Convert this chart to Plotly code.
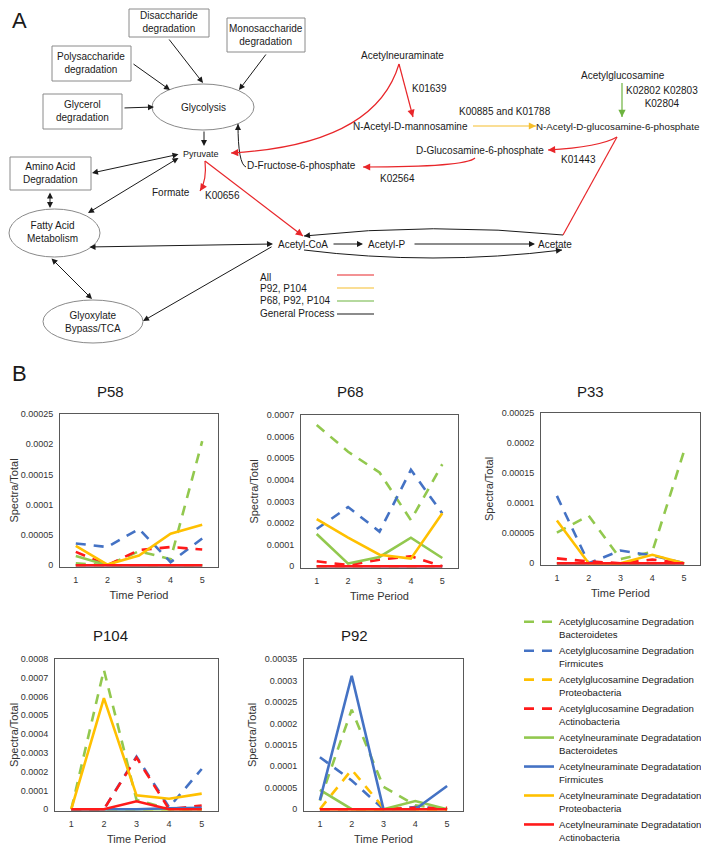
import plotly.graph_objects as go

W, H = 709, 858
OFF = 8  # default page body margin around the figure
FONT = 'Liberation Sans, Arial, sans-serif'

# ---------------- panel B data ----------------
periods = [1, 2, 3, 4, 5]

series_names = [
    'Acetylglucosamine Degradation<br>Bacteroidetes',
    'Acetylglucosamine Degradation<br>Firmicutes',
    'Acetylglucosamine Degradation<br>Proteobacteria',
    'Acetylglucosamine Degradation<br>Actinobacteria',
    'Acetylneuraminate Degradatation<br>Bacteroidetes',
    'Acetylneuraminate Degradatation<br>Firmicutes',
    'Acetylneuraminate Degradatation<br>Proteobacteria',
    'Acetylneuraminate Degradatation<br>Actinobacteria',
]
series_colors = ['#92C84E', '#4472C4', '#FFC000', '#FF1A1A'] * 2
series_dash = ['10px,8px'] * 4 + ['solid'] * 4

# one row per series, same order as series_names
p58 = [
    [0.000003, 0, 0.000023, 0.00001, 0.000205],
    [0.000036, 0.00003, 0.00006, 0.000005, 0.000044],
    [0, 0, 0, 0, 0],
    [0.000022, 0, 0.000025, 0.00003, 0.000026],
    [0.000015, 0, 0, 0, 0],
    [0, 0, 0, 0, 0],
    [0.000032, 0.000001, 0.000016, 0.000052, 0.000067],
    [0, 0, 0, 0, 0],
]
p68 = [
    [0.000654, 0.00053, 0.000434, 0.000213, 0.000472],
    [0.000172, 0.000274, 0.00016, 0.000446, 0.000244],
    [0, 0, 0, 0, 0],
    [0.000023, 0.000005, 0.00003, 0.000046, 0],
    [0.000149, 0.000012, 0.000043, 0.000132, 0.000038],
    [0, 0, 0, 0, 0],
    [0.000218, 0.000132, 0.000053, 0.000035, 0.000245],
    [0, 0, 0, 0, 0],
]
p33 = [
    [0.000051, 0.000079, 0.000007, 0.000019, 0.000187],
    [0.000112, 0, 0.000021, 0.000013, 0],
    [0, 0, 0, 0, 0],
    [0.000008, 0.000003, 0, 0.000006, 0],
    [0, 0, 0, 0, 0],
    [0, 0, 0, 0, 0],
    [0.000071, 0, 0, 0.000014, 0],
    [0, 0, 0, 0, 0],
]
p104 = [
    [0, 0.000742, 0.00005, 0, 0],
    [0, 0, 0.00028, 0.00001, 0.000214],
    [0, 0, 0, 0, 0],
    [0, 0, 0.000275, 0, 0.00002],
    [0, 0, 0, 0, 0],
    [0, 0, 0, 0.000005, 0.000008],
    [0, 0.000592, 0.000074, 0.000056, 0.000083],
    [0, 0, 0.000042, 0, 0],
]
p92 = [
    [0.00002, 0.000232, 0.000052, 0.000009, 0],
    [0.000121, 0.000067, 0, 0.000005, 0],
    [0, 0.000092, 0.000003, 0, 0],
    [0, 0, 0, 0.000003, 0.000003],
    [0.000045, 0, 0, 0.000019, 0],
    [0.000021, 0.000311, 0, 0, 0.000054],
    [0, 0, 0, 0, 0],
    [0, 0, 0, 0, 0],
]

ticks_25 = [0, 0.00005, 0.0001, 0.00015, 0.0002, 0.00025]
ticks_25_text = ['0', '0.00005', '0.0001', '0.00015', '0.0002', '0.00025']
ticks_35 = [0, 0.00005, 0.0001, 0.00015, 0.0002, 0.00025, 0.0003, 0.00035]
ticks_35_text = ['0', '0.00005', '0.0001', '0.00015', '0.0002', '0.00025', '0.0003', '0.00035']
ticks_70 = [0, 0.0001, 0.0002, 0.0003, 0.0004, 0.0005, 0.0006, 0.0007]
ticks_70_text = ['0', '0.0001', '0.0002', '0.0003', '0.0004', '0.0005', '0.0006', '0.0007']
ticks_80 = [0, 0.0001, 0.0002, 0.0003, 0.0004, 0.0005, 0.0006, 0.0007, 0.0008]
ticks_80_text = ['0', '0.0001', '0.0002', '0.0003', '0.0004', '0.0005', '0.0006', '0.0007', '0.0008']

# name, data, plot box in px (x0, x1, y0, y1), y max, ticks, title pos, y-title standoff
panels = [
    ('P58', p58, (60, 218, 414, 567), 0.00025, ticks_25, ticks_25_text, (110, 392), 3),
    ('P68', p68, (301, 458, 415, 568), 0.0007, ticks_70, ticks_70_text, (350, 392), 5),
    ('P33', p33, (541, 700, 413, 565), 0.00025, ticks_25, ticks_25_text, (590, 392), 5),
    ('P104', p104, (55, 218, 659, 811), 0.0008, ticks_80, ticks_80_text, (110, 635), 3),
    ('P92', p92, (304, 463, 659, 811), 0.00035, ticks_35, ticks_35_text, (355, 635), 5),
]

# figure fits inside the page margins, so the page never scrolls
FW, FH = W - 2 * OFF, H - 2 * OFF


def fx(x):
    return (x - OFF) / FW


def fy(y):
    return 1 - (y - OFF) / FH


fig = go.Figure()
annotations = []
shapes = []


def label(text, x, y, size=10, xanchor='center', **kw):
    annotations.append(dict(text=text, x=fx(x), y=fy(y), xref='paper', yref='paper',
                            xanchor=xanchor, yanchor='middle', showarrow=False,
                            font=dict(size=size, color='#1a1a1a', family=FONT), **kw))


def arrow(x0, y0, x1, y1, color='#1a1a1a', both=False, width=1):
    annotations.append(dict(text='', x=fx(x1), y=fy(y1), xref='paper', yref='paper',
                            ax=x0 - x1, ay=y0 - y1, axref='pixel', ayref='pixel',
                            showarrow=True, arrowhead=2, arrowsize=1.2, arrowwidth=width,
                            arrowcolor=color, arrowside='end+start' if both else 'end',
                            standoff=0, startstandoff=0))


def line(x0, y0, x1, y1, color, width=1.2):
    shapes.append(dict(type='line', xref='paper', yref='paper', x0=fx(x0), y0=fy(y0),
                       x1=fx(x1), y1=fy(y1), line=dict(color=color, width=width)))


def curve(p0, c, p1, color, width=1.2):
    path = 'M %f %f Q %f %f %f %f' % (fx(p0[0]), fy(p0[1]), fx(c[0]), fy(c[1]), fx(p1[0]), fy(p1[1]))
    shapes.append(dict(type='path', xref='paper', yref='paper', path=path,
                       line=dict(color=color, width=width)))
    # small arrowhead at the end, along the tangent
    dx, dy = p1[0] - c[0], p1[1] - c[1]
    n = (dx * dx + dy * dy) ** 0.5
    arrow(p1[0] - 5 * dx / n, p1[1] - 5 * dy / n, p1[0], p1[1], color, width=width)


def box(x0, y0, x1, y1, kind='rect'):
    shapes.append(dict(type=kind, xref='paper', yref='paper', x0=fx(x0), y0=fy(y0),
                       x1=fx(x1), y1=fy(y1), line=dict(color='#8a8a8a', width=1),
                       fillcolor='white', layer='below'))


# ---------------- panel A: pathway diagram ----------------
RED, YEL, GRN, BLK = '#E8262A', '#F5BE2C', '#6DB33F', '#1a1a1a'

label('A', 19, 20, size=22)
label('B', 19, 373, size=22)

box(129, 9, 209, 37)
label('Disaccharide<br>degradation', 169, 22)
box(227, 18, 305, 52)
label('Monosaccharide<br>degradation', 266, 35)
box(52, 46, 131, 81)
label('Polysaccharide<br>degradation', 91, 63)
box(43, 94, 122, 129)
label('Glycerol<br>degradation', 82, 111)
box(152, 84, 254, 130, 'circle')
label('Glycolysis', 203, 107)
box(10, 157, 91, 190)
label('Amino Acid<br>Degradation', 50, 173)
box(9, 209, 100, 257, 'circle')
label('Fatty Acid<br>Metabolism', 53, 232)
box(43, 300, 143, 343, 'circle')
label('Glyoxylate<br>Bypass/TCA', 93, 322)

arrow(168, 38, 203, 83)
arrow(132, 63, 170, 90)
arrow(267, 53, 239, 90)
arrow(123, 108, 154, 107)
arrow(204, 130, 204, 146)
arrow(180, 154, 92, 173, both=True)
arrow(180, 157, 88, 213, both=True)
arrow(50, 191, 50, 208, both=True)
arrow(88, 247, 273, 244, both=True)
arrow(50, 257, 92, 299, both=True)
arrow(273, 246, 143, 321)
arrow(332, 244, 363, 244)
arrow(413, 244, 535, 244)
curve((246, 167), (238, 164), (238, 124), BLK, width=1)
curve((563, 235), (433, 222), (304, 236), BLK, width=1)
curve((304, 250), (433, 266), (562, 250), BLK, width=1)

label('Pyruvate', 201, 154, size=9)
label('D-Fructose-6-phosphate', 301, 166)
label('Formate', 171, 193)
label('K00656', 222, 196)
label('Acetyl-CoA', 303, 244)
label('Acetyl-P', 387, 244)
label('Acetate', 555, 244)
label('Acetylneuraminate', 402, 56)
label('K01639', 430, 89)
label('N-Acetyl-D-mannosamine', 410, 126)
label('K00885 and K01788', 505, 112)
label('Acetylglucosamine', 623, 75)
label('K02802 K02803<br>K02804', 662, 97)
label('N-Acetyl-D-glucosamine-6-phosphate', 618, 126, size=9.8)
label('D-Glucosamine-6-phosphate', 480, 150)
label('K01443', 578, 159)
label('K02564', 397, 178)

# red reactions
curve((399, 64), (375, 145), (231, 153), RED)
line(399, 64, 413, 117, RED)
arrow(411, 110, 413, 117, RED, width=1.2)
curve((205, 161), (207, 180), (200, 191), RED)
line(205, 161, 303, 236, RED)
arrow(297, 231.4, 303, 236, RED, width=1.2)
curve((617, 137), (600, 147), (548, 150), RED)
line(617, 137, 563, 235, RED)
curve((475, 158), (466, 167), (363, 167), RED)
# yellow / green reactions
line(473, 126, 536, 126, YEL)
arrow(530, 126, 536, 126, YEL, width=1.2)
line(622, 83, 622, 117, GRN)
arrow(622, 111, 622, 117, GRN, width=1.2)

# diagram legend
for txt, ty, col, ly in [('All', 277, RED, 275), ('P92, P104', 288, YEL, 288),
                         ('P68, P92, P104', 300, GRN, 301), ('General Process', 313, BLK, 314)]:
    label(txt, 258, ty, xanchor='left')
    line(337, ly, 374, ly, col)

# ---------------- panel B: line charts ----------------
for i, (name, data, (x0, x1, y0, y1), ymax, tv, tt, (tx, ty), ystand) in enumerate(panels):
    k = '' if i == 0 else str(i + 1)
    for j, vals in enumerate(data):
        fig.add_trace(go.Scatter(
            x=periods, y=vals, mode='lines', name=series_names[j],
            legendgroup=series_names[j], showlegend=(i == 0),
            line=dict(color=series_colors[j], width=2.6, dash=series_dash[j]),
            xaxis='x' + k, yaxis='y' + k, hoverinfo='skip'))
    axis_style = dict(showgrid=False, zeroline=False, showline=True, mirror=True,
                      linecolor='#595959', linewidth=1, ticks='outside', ticklen=4,
                      tickcolor='rgba(0,0,0,0)', tickfont=dict(size=9, color='#333333', family=FONT))
    fig.update_layout(**{
        'xaxis' + k: dict(domain=[fx(x0), fx(x1)], range=[0.5, 5.5], tickvals=periods,
                          anchor='y' + k,
                          title=dict(text='Time Period', font=dict(size=11, family=FONT, color='#333333'),
                                     standoff=7), **axis_style),
        'yaxis' + k: dict(domain=[fy(y1), fy(y0)], range=[-ymax * 0.012, ymax], tickvals=tv, ticktext=tt,
                          anchor='x' + k,
                          title=dict(text='Spectra/Total', font=dict(size=11, family=FONT, color='#333333'),
                                     standoff=ystand), **axis_style),
    })
    label(name, tx, ty, size=15)

fig.update_layout(
    width=FW, height=FH, margin=dict(l=0, r=0, t=0, b=0, autoexpand=False),
    paper_bgcolor='white', plot_bgcolor='white',
    font=dict(family=FONT, color='#1a1a1a'),
    annotations=annotations, shapes=shapes,
    legend=dict(x=fx(519), y=fy(609), xanchor='left', yanchor='top',
                font=dict(size=9.6, family=FONT, color='#1a1a1a'),
                valign='top', tracegroupgap=1, itemwidth=30, bgcolor='rgba(0,0,0,0)'),
)

fig.write_html('out.html')
